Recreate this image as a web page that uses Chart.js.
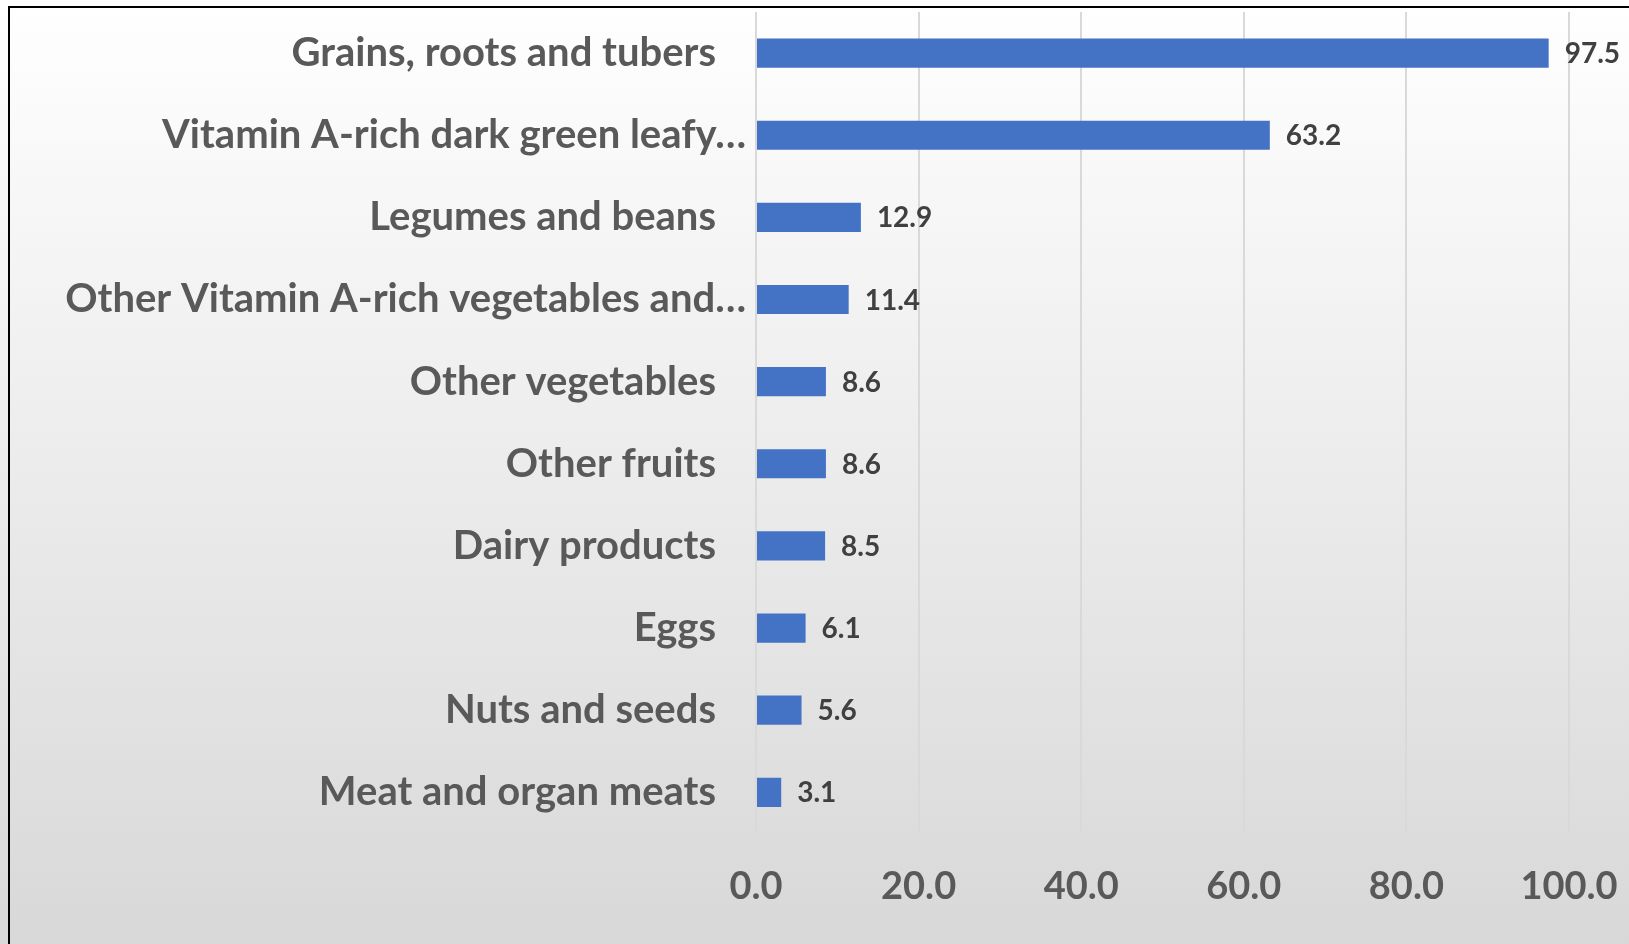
<!DOCTYPE html>
<html>
<head>
<meta charset="utf-8">
<script src="https://cdn.jsdelivr.net/npm/chart.js@4.4.1/dist/chart.umd.min.js"></script>
<style>
  html, body { margin: 0; padding: 0; background: #ffffff; }
  #wrap { width: 1629px; height: 944px; position: relative; }
</style>
</head>
<body>
<div id="wrap"><canvas id="foodChart" width="1629" height="944"></canvas></div>
<script>
// food groups, top to bottom as in the picture
const categories = [
    'Grains, roots and tubers',
    'Vitamin A-rich dark green leafy\u2026',
    'Legumes and beans',
    'Other Vitamin A-rich vegetables and\u2026',
    'Other vegetables',
    'Other fruits',
    'Dairy products',
    'Eggs',
    'Nuts and seeds',
    'Meat and organ meats'
];
// share of households (%)
const values = [97.5, 63.2, 12.9, 11.4, 8.6, 8.6, 8.5, 6.1, 5.6, 3.1];
const xTicks = [0, 20, 40, 60, 80, 100];

const FONT = 'Lato, "Open Sans", sans-serif';

// background gradient + left/top frame
const backgroundPlugin = {
    id: 'bgFrame',
    beforeDraw(chart) {
        const ctx = chart.ctx;
        const g = ctx.createLinearGradient(0, 0, 0, chart.height);
        g.addColorStop(0, '#ffffff');
        g.addColorStop(1, '#d8d8d8');
        ctx.save();
        ctx.fillStyle = g;
        ctx.fillRect(0, 0, chart.width, chart.height);
        ctx.strokeStyle = '#000000';
        ctx.lineWidth = 2;
        ctx.beginPath();
        ctx.moveTo(9, chart.height);
        ctx.lineTo(9, 7);
        ctx.lineTo(chart.width, 7);
        ctx.stroke();
        ctx.restore();
    }
};

// category names on the left and value labels after each bar
const labelPlugin = {
    id: 'labels',
    afterDatasetsDraw(chart) {
        const ctx = chart.ctx;
        const yScale = chart.scales.y;
        const xScale = chart.scales.x;
        ctx.save();
        ctx.textBaseline = 'middle';
        categories.forEach((name, i) => {
            const y = yScale.getPixelForValue(i);
            ctx.font = 'bold 40px ' + FONT;
            ctx.fillStyle = '#595959';
            ctx.textAlign = 'right';
            const cut = name.endsWith('\u2026');
            ctx.fillText(name, cut ? 746 : 716, y);

            ctx.font = 'bold 28px ' + FONT;
            ctx.fillStyle = '#404040';
            ctx.textAlign = 'left';
            ctx.fillText(values[i].toFixed(1), xScale.getPixelForValue(values[i]) + 16, y + 1);
        });
        ctx.restore();
    }
};

new Chart(document.getElementById('foodChart'), {
    type: 'bar',
    data: {
        labels: categories,
        datasets: [{
            data: values,
            backgroundColor: '#4472C4',
            borderWidth: 0,
            categoryPercentage: 1.0,
            barPercentage: 0.355
        }]
    },
    options: {
        indexAxis: 'y',
        responsive: false,
        animation: false,
        layout: {
            padding: { left: 756, right: 60, top: 12, bottom: 3 }
        },
        plugins: {
            legend: { display: false },
            tooltip: { enabled: false }
        },
        scales: {
            y: {
                display: false
            },
            x: {
                min: 0,
                max: 100,
                afterBuildTicks(axis) {
                    axis.ticks = xTicks.map(v => ({ value: v }));
                },
                // the edge labels may hang over; the layout padding is enough
                afterFit(axis) {
                    axis.paddingLeft = 0;
                    axis.paddingRight = 0;
                },
                border: { display: false },
                grid: {
                    color: '#d9d9d9',
                    lineWidth: 2,
                    drawTicks: false
                },
                ticks: {
                    padding: 31,
                    color: '#595959',
                    font: { family: FONT, size: 38, weight: 'bold' },
                    callback: v => Number(v).toFixed(1)
                }
            }
        }
    },
    plugins: [backgroundPlugin, labelPlugin]
});
</script>
</body>
</html>
